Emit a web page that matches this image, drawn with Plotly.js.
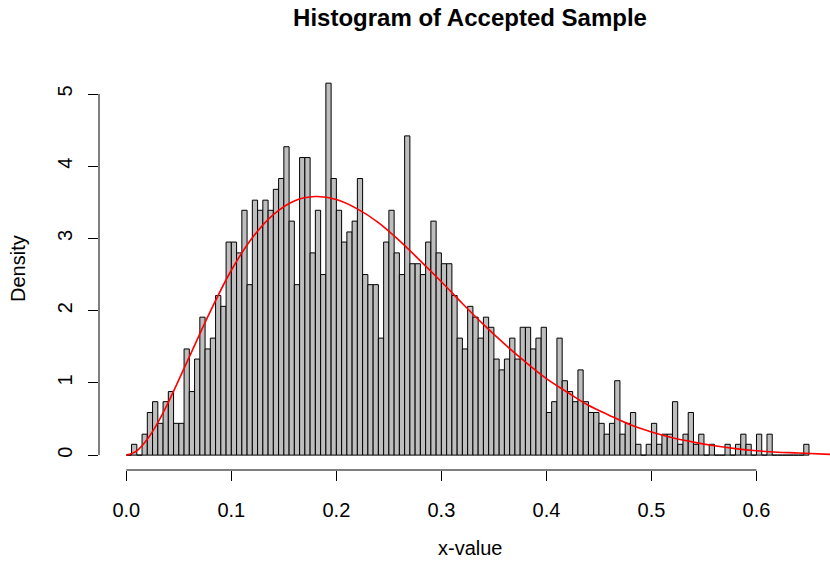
<!DOCTYPE html>
<html>
<head>
<meta charset="utf-8">
<script src="https://cdn.plot.ly/plotly-3.0.1.min.js"></script>
<style>html,body{margin:0;padding:0;background:#fff;}#chart{width:830px;height:573px;}</style>
</head>
<body>
<div id="chart"></div>
<script>
// Histogram densities, one per bin of width 0.005 starting at 0.0
const binStart = 0.0;
const binWidth = 0.005;
const density = [
  0, 0.15, 0, 0.29, 0.59, 0.74, 0.44, 0.74, 0.88, 0.44,
  0.44, 1.47, 0.88, 1.33, 1.91, 1.47, 1.62, 2.21, 2.06, 2.95,
  2.95, 2.80, 3.39, 2.36, 3.53, 3.39, 3.53, 3.39, 3.68, 3.83,
  4.27, 3.24, 2.36, 4.12, 4.12, 2.80, 3.39, 2.50, 5.15, 3.83,
  3.39, 2.95, 3.09, 3.24, 3.83, 2.50, 2.36, 2.36, 1.62, 2.95,
  3.39, 2.80, 2.50, 4.42, 2.65, 2.65, 2.50, 2.95, 3.24, 2.80,
  2.65, 2.65, 2.21, 1.62, 1.47, 2.06, 1.91, 1.62, 1.91, 1.77,
  1.33, 1.18, 1.33, 1.62, 1.33, 1.77, 1.77, 1.47, 1.62, 1.77,
  0.59, 0.74, 1.62, 1.03, 0.88, 0.74, 1.18, 0.74, 0.59, 0.59,
  0.44, 0.29, 0.44, 1.03, 0.29, 0.44, 0.59, 0.15, 0, 0.15,
  0.44, 0.15, 0.29, 0.29, 0.74, 0.15, 0.29, 0.59, 0.15, 0.29,
  0, 0.15, 0, 0, 0.15, 0, 0.15, 0.29, 0.15, 0,
  0.29, 0, 0.29, 0, 0, 0, 0, 0, 0, 0.15
];
// Red density curve
const curveX = [0, 0.01, 0.02, 0.03, 0.04, 0.06, 0.08, 0.10, 0.12, 0.14, 0.16, 0.18, 0.20, 0.22, 0.24, 0.26, 0.28, 0.30, 0.32, 0.34, 0.36, 0.38, 0.40, 0.42, 0.44, 0.46, 0.48, 0.50, 0.52, 0.54, 0.56, 0.58, 0.60, 0.62, 0.64, 0.67];
const curveY = [0, 0.06, 0.22, 0.45, 0.73, 1.36, 1.99, 2.56, 3.01, 3.33, 3.52, 3.58, 3.54, 3.41, 3.22, 2.97, 2.69, 2.40, 2.10, 1.81, 1.54, 1.29, 1.06, 0.87, 0.69, 0.55, 0.42, 0.32, 0.24, 0.18, 0.13, 0.09, 0.06, 0.04, 0.03, 0.01];
const xTicks = [0.0, 0.1, 0.2, 0.3, 0.4, 0.5, 0.6];
const xTickText = ["0.0", "0.1", "0.2", "0.3", "0.4", "0.5", "0.6"];
const yTicks = [0, 1, 2, 3, 4, 5];

const FONT = "Liberation Sans, Arial, Helvetica, sans-serif";

const traces = [
  {
    type: 'bar',
    x0: binStart + binWidth / 2,
    dx: binWidth,
    y: density,
    width: binWidth,
    marker: {color: '#bebebe', line: {color: '#000000', width: 1}},
    hoverinfo: 'skip'
  },
  {
    type: 'scatter',
    mode: 'lines',
    x: curveX,
    y: curveY,
    line: {color: '#ff0000', width: 1.6, shape: 'spline', smoothing: 1},
    hoverinfo: 'skip'
  }
];

const layout = {
  width: 830,
  height: 573,
  margin: {l: 99, r: 0, t: 68, b: 103, pad: 0},
  paper_bgcolor: '#ffffff',
  plot_bgcolor: '#ffffff',
  showlegend: false,
  bargap: 0,
  font: {family: FONT, color: '#000000', size: 20},
  title: {
    text: '<b>Histogram of Accepted Sample</b>',
    font: {family: FONT, size: 24, color: '#000000'},
    xref: 'container', x: 470 / 830, xanchor: 'center',
    yref: 'container', y: 1 - 18 / 573, yanchor: 'middle'
  },
  xaxis: {
    range: [-0.026, 0.67],
    tickmode: 'array', tickvals: xTicks, ticktext: xTickText,
    ticks: 'outside', ticklen: 10, tickwidth: 1, tickcolor: '#000000',
    showline: false, showgrid: false, zeroline: false,
    tickfont: {family: FONT, size: 20, color: '#000000'},
    ticklabelstandoff: 12
  },
  yaxis: {
    range: [-0.206, 5.36],
    tickmode: 'array', tickvals: yTicks,
    ticks: 'outside', ticklen: 10, tickwidth: 1, tickcolor: '#000000',
    showline: false, showgrid: false, zeroline: false,
    tickangle: -90,
    tickfont: {family: FONT, size: 20, color: '#000000'},
    ticklabelstandoff: 8
  },
  shapes: [
    {type: 'line', xref: 'x', yref: 'paper', x0: xTicks[0], x1: xTicks[xTicks.length - 1], y0: 0, y1: 0, line: {color: '#000000', width: 1}},
    {type: 'line', xref: 'paper', yref: 'y', x0: 0, x1: 0, y0: yTicks[0], y1: yTicks[yTicks.length - 1], line: {color: '#000000', width: 1}}
  ],
  annotations: [
    {text: 'x-value', xref: 'paper', yref: 'paper', x: (470 - 99) / 731, y: 0, xanchor: 'center', yanchor: 'middle', yshift: -78, showarrow: false, font: {family: FONT, size: 20, color: '#000000'}},
    {text: 'Density', xref: 'paper', yref: 'paper', x: 0, y: 0.5, xanchor: 'center', yanchor: 'middle', xshift: -81, textangle: -90, showarrow: false, font: {family: FONT, size: 20, color: '#000000'}}
  ]
};

Plotly.newPlot('chart', traces, layout, {staticPlot: true, displayModeBar: false});
</script>
</body>
</html>
